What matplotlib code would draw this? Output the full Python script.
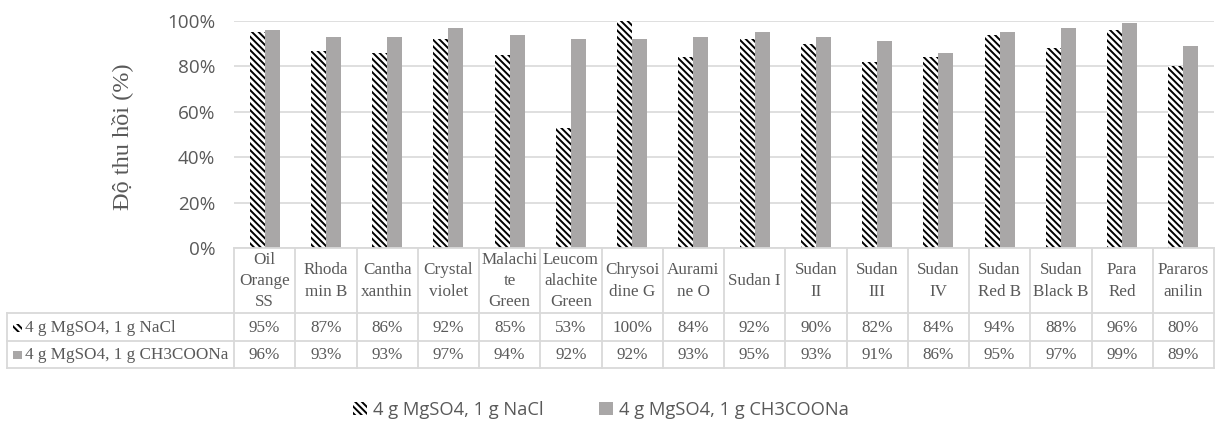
import numpy as np
import matplotlib
matplotlib.use("Agg")
import matplotlib.pyplot as plt
from matplotlib.lines import Line2D
from matplotlib.patches import Rectangle
from matplotlib import transforms

# recovery data (%)
dyes = ["Oil\nOrange\nSS", "Rhoda\nmin B", "Cantha\nxanthin", "Crystal\nviolet",
        "Malachi\nte\nGreen", "Leucom\nalachite\nGreen", "Chrysoi\ndine G", "Aurami\nne O",
        "Sudan I", "Sudan\nII", "Sudan\nIII", "Sudan\nIV", "Sudan\nRed B",
        "Sudan\nBlack B", "Para\nRed", "Pararos\nanilin"]
nacl = [95, 87, 86, 92, 85, 53, 100, 84, 92, 90, 82, 84, 94, 88, 96, 80]
acetate = [96, 93, 93, 97, 94, 92, 92, 93, 95, 93, 91, 86, 95, 97, 99, 89]
series_names = ["4 g MgSO4, 1 g NaCl", "4 g MgSO4, 1 g CH3COONa"]
yticks = [0, 20, 40, 60, 80, 100]

W, H = 1217, 421
GREY = "#a9a7a7"
TXT = "#595959"
LINE = "#d9d9d9"
HATCH = "\\" * 5
plt.rcParams["hatch.linewidth"] = 1.4

fig = plt.figure(figsize=(W / 100, H / 100), dpi=100)

def fx(px):
    return px / W

def fy(py):
    return 1 - py / H

ax = fig.add_axes([fx(234), fy(248), fx(1214 - 234), (248 - 21) / H])
x = np.arange(len(dyes))
bw = 0.245
b1 = ax.bar(x - bw / 2, nacl, bw, facecolor="white", edgecolor="black",
            linewidth=0, hatch=HATCH, zorder=3)
b2 = ax.bar(x + bw / 2, acetate, bw, color=GREY, linewidth=0, zorder=3)

ax.set_xlim(-0.5, len(dyes) - 0.5)
ax.set_ylim(0, 100)
ax.set_yticks(yticks)
ax.set_yticklabels([f"{v}%" for v in yticks], family="Open Sans", fontsize=13.6, color=TXT)
ax.set_xticks([])
ax.tick_params(axis="y", length=0, pad=13.5)
ax.grid(axis="y", color=LINE, linewidth=1.2, zorder=0)
for s in ax.spines.values():
    s.set_visible(False)

fig.text(fx(122), fy(137), "Độ thu hồi (%)", rotation=90, ha="center", va="center",
         family="Liberation Serif", fontsize=17.5, color=TXT)

# data table under the axis
tr = transforms.blended_transform_factory(ax.transData, fig.transFigure)
lw = 1.3
for py, left in [(248, 234), (313, 7), (341, 7), (368, 7)]:
    fig.add_artist(Line2D([fx(left), fx(1214)], [fy(py), fy(py)], color=LINE, lw=lw,
                          transform=fig.transFigure))
for i in range(len(dyes) + 1):
    fig.add_artist(Line2D([i - 0.5, i - 0.5], [fy(248), fy(368)], color=LINE, lw=lw,
                          transform=tr))
fig.add_artist(Line2D([fx(7), fx(7)], [fy(313), fy(368)], color=LINE, lw=lw,
                      transform=fig.transFigure))

tfont = dict(family="Liberation Serif", fontsize=12.3, color=TXT)
for i, name in enumerate(dyes):
    fig.text(i, fy(281), name, transform=tr, ha="center", va="center",
             linespacing=1.45, **tfont)
    fig.text(i, fy(328), f"{nacl[i]}%", transform=tr, ha="center", va="center", **tfont)
    fig.text(i, fy(355), f"{acetate[i]}%", transform=tr, ha="center", va="center", **tfont)

fig.text(fx(25), fy(328), series_names[0], ha="left", va="center", **tfont)
fig.text(fx(25), fy(355), series_names[1], ha="left", va="center", **tfont)
fig.add_artist(Rectangle((fx(13), fy(332)), fx(9), 8 / H, transform=fig.transFigure,
                         facecolor="white", edgecolor="black", linewidth=0, hatch=HATCH))
fig.add_artist(Rectangle((fx(13), fy(359)), fx(9), 8 / H, transform=fig.transFigure,
                         facecolor=GREY, linewidth=0))

fig.legend([b1, b2], series_names, ncol=2, loc="center",
           bbox_to_anchor=(fx(601), fy(410)), frameon=False,
           handlelength=0.75, handleheight=0.75, handletextpad=0.35, columnspacing=3.0,
           prop=dict(family="Open Sans", size=13.2), labelcolor=TXT)

fig.savefig("out.png", dpi=100)
